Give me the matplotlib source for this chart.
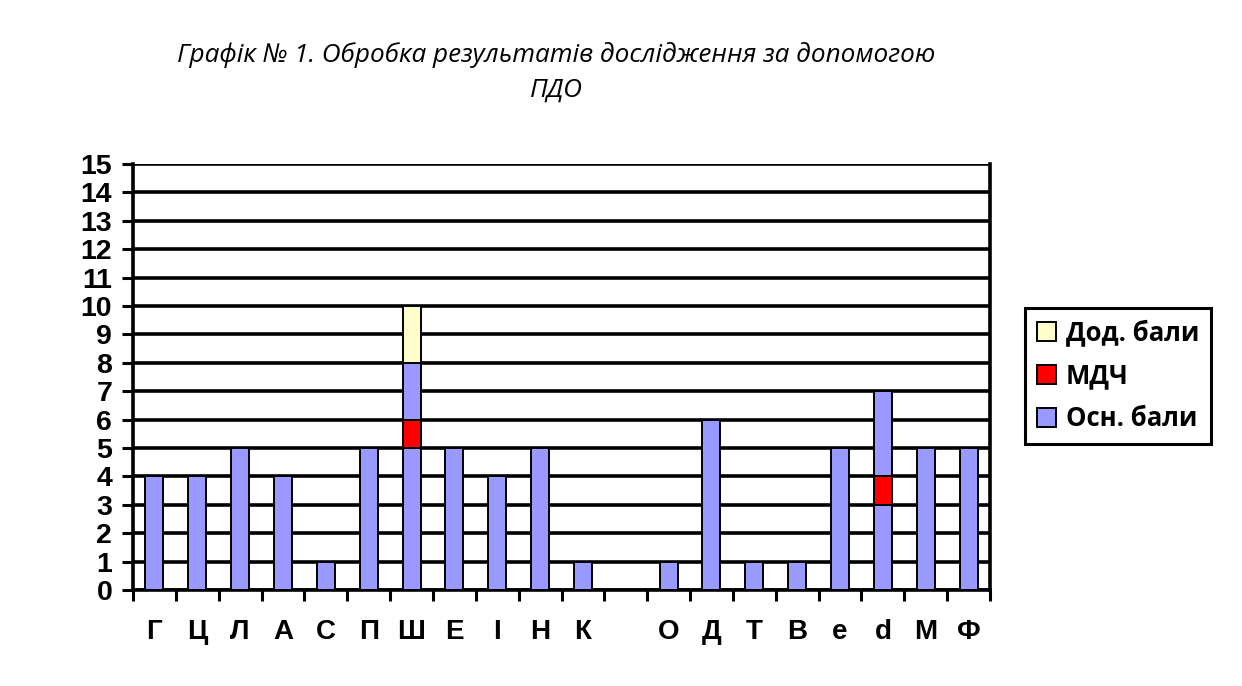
import numpy as np
import matplotlib.pyplot as plt
from matplotlib.patches import Patch

cats = ['Г', 'Ц', 'Л', 'А', 'С', 'П', 'Ш', 'Е', 'І', 'Н', 'К', '',
        'О', 'Д', 'Т', 'В', 'e', 'd', 'М', 'Ф']
osn = [4, 4, 5, 4, 1, 5, 5, 5, 4, 5, 1, 0, 1, 6, 1, 1, 5, 3, 5, 5]
mdch = [0, 0, 0, 0, 0, 0, 1, 0, 0, 0, 0, 0, 0, 0, 0, 0, 0, 1, 0, 0]
osn_top = [0, 0, 0, 0, 0, 0, 2, 0, 0, 0, 0, 0, 0, 0, 0, 0, 0, 3, 0, 0]
dod = [0, 0, 0, 0, 0, 0, 2, 0, 0, 0, 0, 0, 0, 0, 0, 0, 0, 0, 0, 0]

blue = '#9999FF'
red = '#FF0000'
cream = '#FFFFCC'

fig = plt.figure(figsize=(12.42, 6.86), dpi=100)
ax = fig.add_axes([133 / 1242, 1 - 590 / 686, 857 / 1242, 426 / 686])

x = np.arange(len(cats))
w = 0.42
osn = np.array(osn)
mdch = np.array(mdch)
osn_top = np.array(osn_top)
dod = np.array(dod)

kw = dict(width=w, edgecolor='black', linewidth=1.4, zorder=3)
ax.bar(x, osn, color=blue, **kw)
ax.bar(x, mdch, bottom=osn, color=red, **kw)
ax.bar(x, osn_top, bottom=osn + mdch, color=blue, **kw)
ax.bar(x, dod, bottom=osn + mdch + osn_top, color=cream, **kw)
# hide zero-height bars
for bars in ax.containers:
    for r in bars:
        if r.get_height() == 0:
            r.set_visible(False)

ax.set_xlim(-0.5, len(cats) - 0.5)
ax.set_ylim(0, 15)
ax.set_yticks(range(16))
ax.yaxis.grid(True, color='black', linewidth=2.6, zorder=0)
ax.set_axisbelow(True)

ax.set_xticks(x)
ax.set_xticklabels(cats, fontsize=20, fontweight='bold', family='Liberation Sans')
ax.set_xticks(np.arange(-0.5, len(cats)), minor=True)
ax.tick_params(axis='x', which='major', length=0, pad=21)
ax.tick_params(axis='x', which='minor', length=8, width=2.2, direction='out')
ax.tick_params(axis='y', length=8, width=2.2, pad=7)
for lbl in ax.get_yticklabels():
    lbl.set_fontsize(20.5)
    lbl.set_fontweight('bold')
    lbl.set_family('Liberation Sans')

ax.spines['top'].set_visible(False)
for s in ['left', 'bottom', 'right']:
    ax.spines[s].set_linewidth(2.6)

fig.text(556 / 1242, 1 - 55 / 686, 'Графік № 1. Обробка результатів дослідження за допомогою',
         ha='center', va='center', fontsize=18.8, style='italic', family='Open Sans')
fig.text(556 / 1242, 1 - 90 / 686, 'ПДО',
         ha='center', va='center', fontsize=18.8, style='italic', family='Open Sans')

handles = [Patch(facecolor=cream, edgecolor='black', linewidth=1.4),
           Patch(facecolor=red, edgecolor='black', linewidth=1.4),
           Patch(facecolor=blue, edgecolor='black', linewidth=1.4)]
leg = fig.legend(handles, ['Дод. бали', 'МДЧ', 'Осн. бали'],
                 loc='upper left', bbox_to_anchor=(1025 / 1242, 1 - 308 / 686),
                 frameon=True, fancybox=False, edgecolor='black', framealpha=1,
                 prop={'family': 'Open Sans', 'weight': 'bold', 'size': 18.5},
                 handlelength=0.75, handleheight=0.75, handletextpad=0.4,
                 labelspacing=0.62, borderpad=0.45, borderaxespad=0)
leg.get_frame().set_linewidth(2.2)

fig.savefig('out.png', dpi=100)
